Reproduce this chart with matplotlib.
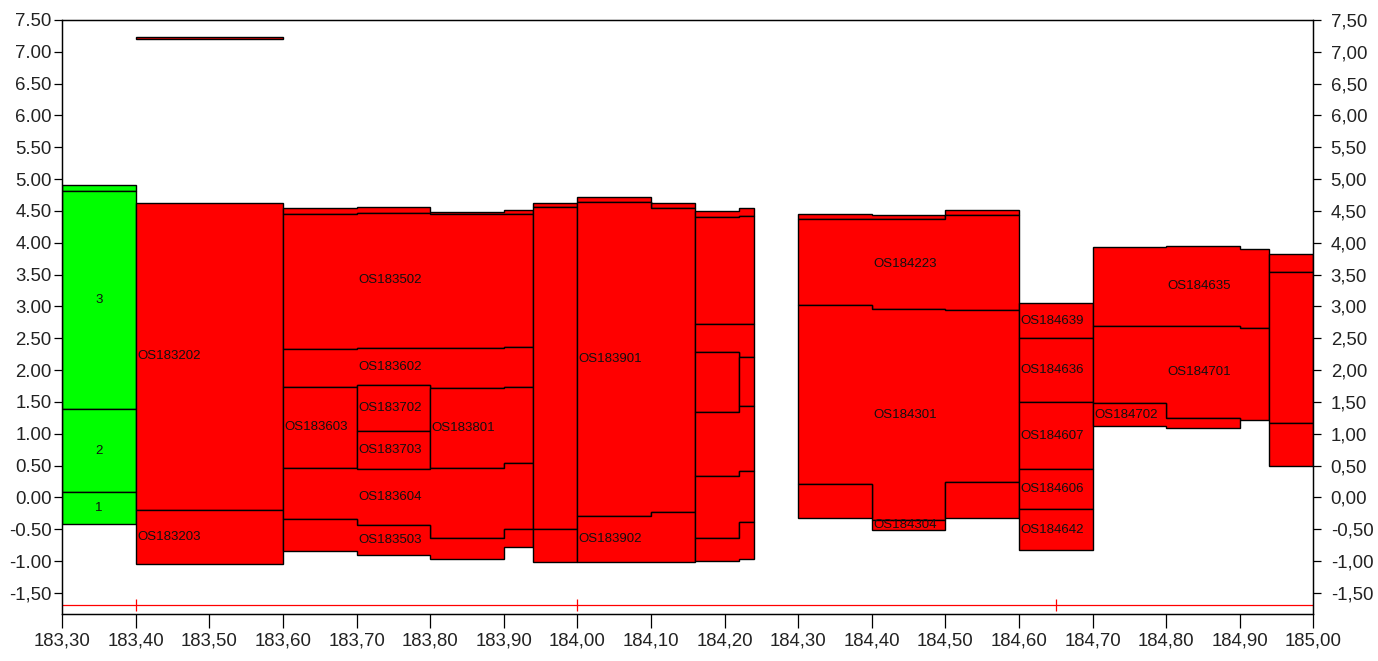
import matplotlib
matplotlib.use("Agg")
import matplotlib.pyplot as plt
from matplotlib.patches import Polygon

plt.rcParams['font.family'] = ['Liberation Sans', 'DejaVu Sans']

# ---------------- data ----------------
# Each layer: name, x-edges of its columns, top value per column, bottom value per column
GREEN = "#00ff00"
RED = "#ff0000"

# 183.30 - 183.40 (green core)
g1_x = [183.30, 183.40]
g1_names = ["", "3", "2", "1"]
g1_iface = [[4.91], [4.81], [1.39], [0.08], [-0.42]]

# 183.40 - 183.60
g2_x = [183.40, 183.60]
g2_names = ["", "OS183202", "OS183203"]
g2_iface = [[4.63], [-0.19], [-1.05]]
g2_thin_top = [7.23]
g2_thin_bot = [7.20]

# 183.60 - 183.94
g3_x = [183.60, 183.70, 183.80, 183.90, 183.94]
g3_t0 = [4.55, 4.56, 4.48, 4.51]
g3_t1 = [4.46, 4.47, 4.45, 4.45]
g3_t2 = [2.33, 2.35, 2.35, 2.36]
g3_t3 = [1.74, 1.76, 1.72, 1.74]
g3_t4 = [0.46, 0.44, 0.46, 0.54]
g3_t5 = [-0.33, -0.43, -0.64, -0.49]
g3_t6 = [-0.84, -0.90, -0.96, -0.78]
g3_mid_line_702_703 = [1.05]

# 183.94 - 184.00
g4_x = [183.94, 184.00]
g4_iface = [[4.625], [4.563], [-0.50], [-1.02]]

# 184.00 - 184.16
g5_x = [184.00, 184.10, 184.16]
g5_names = ["", "OS183901", "OS183902"]
g5_iface = [[4.72, 4.625], [4.64, 4.55], [-0.29, -0.23], [-1.02, -1.02]]

# 184.16 - 184.24
g6_x = [184.16, 184.22, 184.24]
g6_iface_a = [[4.505, 4.547], [4.406, 4.426], [2.723, 2.723], [2.293, 2.204]]
g6_iface_b = [[1.340, 1.443], [0.338, 0.421], [-0.642, -0.380], [-0.998, -0.972]]

# 184.30 - 184.60
g7_x = [184.30, 184.40, 184.50, 184.60]
g7_names = ["", "OS184223", "OS184301"]
g7_iface = [[4.453, 4.437, 4.51], [4.374, 4.374, 4.437], [3.022, 2.959, 2.948], [0.207, -0.354, 0.239]]
g7_bottom_left = [0.207, -0.327]
g7_os184304 = [-0.354, -0.511]
g7_bottom_right = [0.239, -0.327]

# 184.60 - 184.70
g8_x = [184.60, 184.70]
g8_names = ["OS184639", "OS184636", "OS184607", "OS184606", "OS184642"]
g8_iface = [[3.053], [2.503], [1.497], [0.443], [-0.186], [-0.825]]

# 184.70 - 184.94
g9_x = [184.70, 184.80, 184.90, 184.94]
g9_names = ["OS184635", "OS184701"]
g9_iface = [[3.934, 3.954, 3.903], [2.701, 2.701, 2.670], [1.481, 1.245, 1.219]]
g9_os184702_top = [1.481, 1.245]
g9_os184702_bot = [1.124, 1.088]

# 184.94 - 185.00
g10_x = [184.94, 185.00]
g10_iface = [[3.824], [3.541], [1.167], [0.495]]

# base line with markers
base_y = -1.693
base_marks = [183.40, 184.00, 184.65]

x_ticks = [183.30 + 0.1 * i for i in range(18)]
x_labels = ["183,30", "183,40", "183,50", "183,60", "183,70", "183,80", "183,90",
            "184,00", "184,10", "184,20", "184,30", "184,40", "184,50", "184,60",
            "184,70", "184,80", "184,90", "185,00"]
y_ticks = [7.5, 7.0, 6.5, 6.0, 5.5, 5.0, 4.5, 4.0, 3.5, 3.0, 2.5, 2.0, 1.5, 1.0, 0.5, 0.0, -0.5, -1.0, -1.5]
y_labels_left = ["7.50", "7.00", "6.50", "6.00", "5.50", "5.00", "4.50", "4.00", "3.50", "3.00",
                 "2.50", "2.00", "1.50", "1.00", "0.50", "0.00", "-0.50", "-1.00", "-1,50"]
y_labels_right = ["7,50", "7,00", "6,50", "6,00", "5,50", "5,00", "4,50", "4,00", "3,50", "3,00",
                  "2,50", "2,00", "1,50", "1,00", "0,50", "0,00", "-0,50", "-1,00", "-1,50"]

# ---------------- layers table ----------------
# (name, xedges, tops, bots, label column, color, centered label)
layers = []
for i, nm in enumerate(g1_names):
    layers.append((nm, g1_x, g1_iface[i], g1_iface[i + 1], 0, GREEN, True))
layers.append(("", g2_x, g2_thin_top, g2_thin_bot, 0, RED, False))
for i, nm in enumerate(g2_names):
    if i == 0:
        continue
    layers.append((nm, g2_x, g2_iface[i - 1], g2_iface[i], 0, RED, False))

layers += [
    ("", g3_x, g3_t0, g3_t1, 1, RED, False),
    ("OS183502", g3_x, g3_t1, g3_t2, 1, RED, False),
    ("OS183602", g3_x, g3_t2, g3_t3, 1, RED, False),
    ("OS183603", g3_x[0:2], g3_t3[0:1], g3_t4[0:1], 0, RED, False),
    ("OS183702", g3_x[1:3], g3_t3[1:2], g3_mid_line_702_703, 0, RED, False),
    ("OS183703", g3_x[1:3], g3_mid_line_702_703, g3_t4[1:2], 0, RED, False),
    ("OS183801", g3_x[2:5], g3_t3[2:4], g3_t4[2:4], 0, RED, False),
    ("OS183604", g3_x, g3_t4, g3_t5, 1, RED, False),
    ("OS183503", g3_x, g3_t5, g3_t6, 1, RED, False),
]
for i in range(3):
    layers.append(("", g4_x, g4_iface[i], g4_iface[i + 1], 0, RED, False))
for i, nm in enumerate(g5_names):
    layers.append((nm, g5_x, g5_iface[i], g5_iface[i + 1], 0, RED, False))
for i in range(3):
    layers.append(("", g6_x, g6_iface_a[i], g6_iface_a[i + 1], 0, RED, False))
layers.append(("", g6_x[0:2], g6_iface_a[3][0:1], g6_iface_b[0][0:1], 0, RED, False))
layers.append(("", g6_x[1:3], g6_iface_a[3][1:2], g6_iface_b[0][1:2], 0, RED, False))
for i in range(3):
    layers.append(("", g6_x, g6_iface_b[i], g6_iface_b[i + 1], 0, RED, False))
for i, nm in enumerate(g7_names):
    layers.append((nm, g7_x, g7_iface[i], g7_iface[i + 1], 1, RED, False))
layers.append(("", g7_x[0:2], g7_bottom_left[0:1], g7_bottom_left[1:2], 0, RED, False))
layers.append(("OS184304", g7_x[1:3], g7_os184304[0:1], g7_os184304[1:2], 0, RED, False))
layers.append(("", g7_x[2:4], g7_bottom_right[0:1], g7_bottom_right[1:2], 0, RED, False))
for i, nm in enumerate(g8_names):
    layers.append((nm, g8_x, g8_iface[i], g8_iface[i + 1], 0, RED, False))
for i, nm in enumerate(g9_names):
    layers.append((nm, g9_x, g9_iface[i], g9_iface[i + 1], 1, RED, False))
layers.append(("OS184702", g9_x[0:3], g9_os184702_top, g9_os184702_bot, 0, RED, False))
for i in range(3):
    layers.append(("", g10_x, g10_iface[i], g10_iface[i + 1], 0, RED, False))


def step_polygon(xe, tops, bots):
    verts = []
    for i in range(len(tops)):
        verts.append((xe[i], tops[i]))
        verts.append((xe[i + 1], tops[i]))
    for i in range(len(bots) - 1, -1, -1):
        verts.append((xe[i + 1], bots[i]))
        verts.append((xe[i], bots[i]))
    return verts


# ---------------- figure ----------------
fig = plt.figure(figsize=(13.78, 6.61), dpi=100)
ax = fig.add_axes([62.3 / 1378, 1 - 614 / 661, (1313.3 - 62.3) / 1378, (614 - 20) / 661])
ax.set_xlim(183.30, 185.00)
ax.set_ylim(-1.83, 7.50)

for nm, xe, tops, bots, lc, col, centered in layers:
    poly = Polygon(step_polygon(xe, tops, bots), closed=True, facecolor=col,
                   edgecolor="black", linewidth=1.0, joinstyle="miter", zorder=2)
    ax.add_patch(poly)
    if nm:
        ymid = (tops[lc] + bots[lc]) / 2
        if centered:
            ax.text((xe[lc] + xe[lc + 1]) / 2, ymid, nm, ha="center", va="center",
                    fontsize=9.5, color="#111111", zorder=3)
        else:
            ax.annotate(nm, (xe[lc], ymid), xytext=(1.0, 0), textcoords="offset points",
                        ha="left", va="center", fontsize=9.5, color="#111111", zorder=3)

ax.plot([183.30, 185.00], [base_y, base_y], color=RED, linewidth=0.9, zorder=2)
ax.plot(base_marks, [base_y] * len(base_marks), linestyle="none", marker="|",
        markersize=8, markeredgewidth=0.9, color=RED, zorder=2)

for s in ax.spines.values():
    s.set_linewidth(0.9)
    s.set_color("black")

ax.set_xticks(x_ticks)
ax.set_xticklabels(x_labels)
ax.set_yticks(y_ticks)
ax.set_yticklabels(y_labels_left)
ax.tick_params(axis="x", direction="out", length=10, width=0.9, pad=3, labelsize=13.4, labelcolor="#222222")
ax.tick_params(axis="y", direction="out", length=6, width=0.9, pad=1.7, labelsize=13.4, labelcolor="#222222")

ax2 = ax.twinx()
ax2.set_ylim(ax.get_ylim())
ax2.set_yticks(y_ticks)
ax2.set_yticklabels(y_labels_right)
ax2.tick_params(axis="y", direction="out", length=6, width=0.9, pad=6.5, labelsize=13.4, labelcolor="#222222")
for s in ax2.spines.values():
    s.set_linewidth(0.9)

fig.savefig("out.png", dpi=100)
